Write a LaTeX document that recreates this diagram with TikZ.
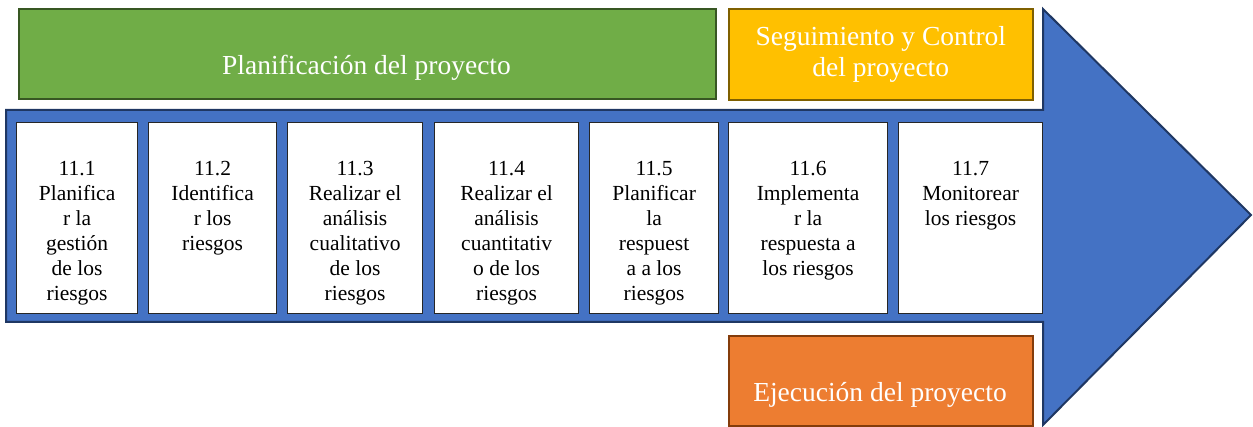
\documentclass[tikz,border=0pt]{standalone}
\usepackage{fontspec}
\setmainfont{Liberation Serif}
\definecolor{abody}{HTML}{4472C4}
\definecolor{aline}{HTML}{1F3763}
\definecolor{pgreen}{HTML}{70AD47}
\definecolor{pgreenline}{HTML}{385723}
\definecolor{pyellow}{HTML}{FFC000}
\definecolor{pyellowline}{HTML}{7F6000}
\definecolor{porange}{HTML}{ED7D31}
\definecolor{porangeline}{HTML}{843C0B}
\tikzset{
  arrowshape/.style={fill=abody, draw=aline, line width=2pt, line join=miter},
  phasebox/.style={rectangle, line width=1.6pt, anchor=north west, inner sep=0pt},
  phasetext/.style={text=white, font=\fontsize{27.5}{31}\selectfont, align=center, inner sep=0pt},
  stepbox/.style={rectangle, draw=black!85, fill=white, line width=1.2pt, anchor=north west, inner sep=0pt},
  steptext/.style={font=\fontsize{21.5}{25}\selectfont, align=center, anchor=north, inner sep=0pt}
}
\begin{document}
\begin{tikzpicture}[x=1pt,y=-1pt]
\useasboundingbox (0,0) rectangle (1253,427);
% big arrow
\draw[arrowshape] (6,110) -- (1043,110) -- (1043,9) -- (1251,215) -- (1043,425) -- (1043,322) -- (6,322) -- cycle;
% phase boxes
\node[phasebox, fill=pgreen, draw=pgreenline, minimum width=697pt, minimum height=90pt] (plan) at (18,8) {};
\node[phasetext, anchor=base] (plantext) at (366.5,75) {Planificación del proyecto};
\node[phasebox, fill=pyellow, draw=pyellowline, minimum width=304pt, minimum height=91pt] (seg) at (728,8) {};
\node[phasetext] (segtext) at (seg.center) {Seguimiento y Control\\del proyecto};
\node[phasebox, fill=porange, draw=porangeline, minimum width=304pt, minimum height=90pt] (ejec) at (728,335) {};
\node[phasetext, anchor=base] (ejectext) at (880,402) {Ejecución del proyecto};
% step boxes
\foreach \i/\l/\r/\t in {
  1/16/137/{11.1\\Planifica\\r la\\gestión\\de los\\riesgos},
  2/148/276/{11.2\\Identifica\\r los\\riesgos},
  3/287/422/{11.3\\Realizar el\\análisis\\cualitativo\\de los\\riesgos},
  4/434/578/{11.4\\Realizar el\\análisis\\cuantitativ\\o de los\\riesgos},
  5/589/718/{11.5\\Planificar\\la\\respuest\\a a los\\riesgos},
  6/728/887/{11.6\\Implementa\\r la\\respuesta a\\los riesgos},
  7/898/1042/{11.7\\Monitorear\\los riesgos}}{
  \pgfmathsetmacro{\w}{\r-\l}
  \node[stepbox, minimum width=\w pt, minimum height=191pt] (s\i) at (\l,122) {};
  \node[steptext] (t\i) at ([yshift=-39pt]s\i.north) {\t};
}
\end{tikzpicture}
\end{document}
